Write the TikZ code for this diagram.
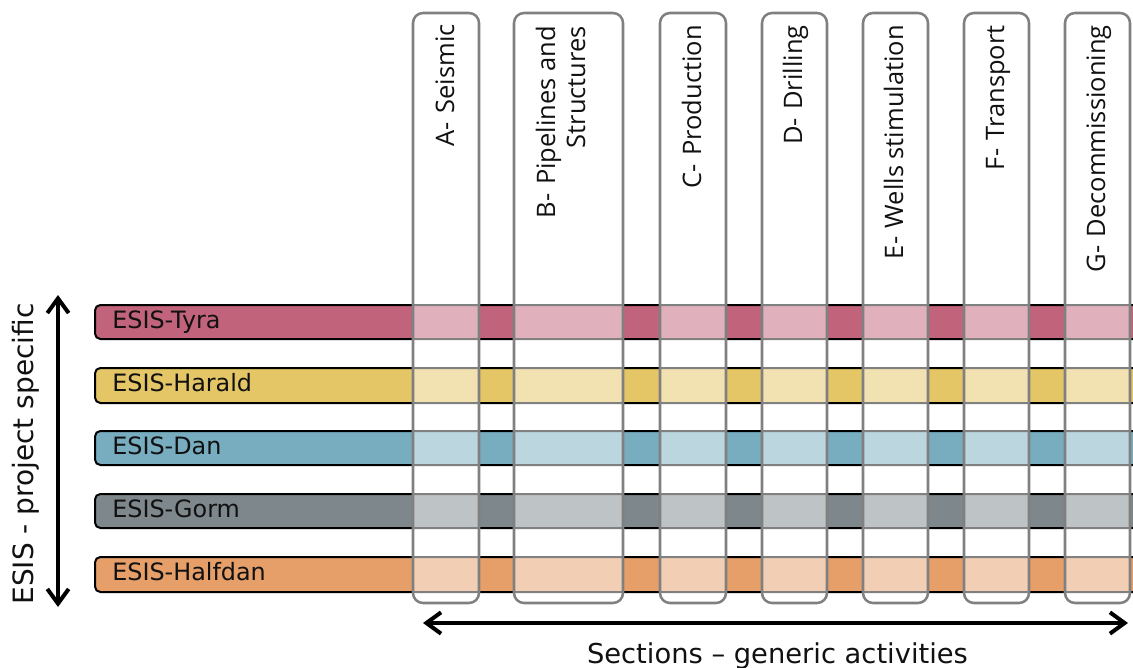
\documentclass[tikz,border=0pt]{standalone}
\usepackage{fontspec}
\setmainfont{DejaVu Sans}
\newfontfamily\colfont{Open Sans}
\usetikzlibrary{arrows.meta}
\definecolor{tyraD}{HTML}{C2637C}
\definecolor{haraldD}{HTML}{E5C666}
\definecolor{danD}{HTML}{78ADC0}
\definecolor{gormD}{HTML}{7E888C}
\definecolor{halfdanD}{HTML}{E69F69}
\definecolor{colgray}{HTML}{808080}
\definecolor{txt}{HTML}{111111}
\begin{document}
\begin{tikzpicture}[x=0.75pt,y=-0.75pt,
  barstyle/.style={draw=black, line width=1.5pt, rounded corners=4pt},
  colbox/.style={draw=colgray, line width=1.9pt, rounded corners=7.5pt, fill=white, fill opacity=0.5},
  barlabel/.style={anchor=base west, font=\fontsize{17.9}{20}\selectfont, text=txt, inner sep=0pt},
  collabel/.style={rotate=90, anchor=base east, font=\colfont\fontsize{19.1}{22}\selectfont, text=txt, inner sep=0pt},
  axisarrow/.style={line width=3pt, {Straight Barb[length=11pt,width=16pt]}-{Straight Barb[length=11pt,width=16pt]}},
  axislabel/.style={font=\fontsize{20.5}{24}\selectfont, text=txt, inner sep=0pt}
]
\useasboundingbox (0,0) rectangle (1133,668);
\clip (0,0) rectangle (1133,668);

% bars
\path[barstyle, fill=tyraD]    (95,305) rectangle (1170,339);
\path[barstyle, fill=haraldD]  (95,368) rectangle (1170,403);
\path[barstyle, fill=danD]     (95,431) rectangle (1170,465);
\path[barstyle, fill=gormD]    (95,494) rectangle (1170,528);
\path[barstyle, fill=halfdanD] (95,557) rectangle (1170,592);

\node[barlabel] (tyra)    at (112,328) {ESIS-Tyra};
\node[barlabel] (harald)  at (112,391) {ESIS-Harald};
\node[barlabel] (dan)     at (112,454) {ESIS-Dan};
\node[barlabel] (gorm)    at (112,517) {ESIS-Gorm};
\node[barlabel] (halfdan) at (112,580) {ESIS-Halfdan};

% columns
\path[colbox] (413,13) rectangle (479,603);
\path[colbox] (514,13) rectangle (623,603);
\path[colbox] (660,13) rectangle (726,603);
\path[colbox] (762,13) rectangle (827,603);
\path[colbox] (863,13) rectangle (928,603);
\path[colbox] (964,13) rectangle (1029,603);
\path[colbox] (1065,13) rectangle (1130,603);

\node[collabel] (colA)  at (454,24) {A-\,\,Seismic};
\node[collabel] (colB1) at (555,26) {B-\,\,Pipelines and};
\node[collabel] (colB2) at (585,26) {Structures};
\node[collabel] (colC)  at (701,25) {C-\,\,Production};
\node[collabel] (colD)  at (802,25) {D-\,\,Drilling};
\node[collabel] (colE)  at (903,25) {E-\,\,Wells stimulation};
\node[collabel] (colF)  at (1004,25) {F-\,\,Transport};
\node[collabel] (colG)  at (1105,25) {G-\,\,Decommissioning};

% axes
\coordinate (vtop) at (58,295);
\coordinate (vbot) at (58,607);
\draw[axisarrow] (vtop) -- (vbot);
\node[axislabel, rotate=90, anchor=base, font=\fontsize{21}{24}\selectfont] (vlabel) at (33,454) {ESIS - project specific};

\coordinate (hleft) at (423,623);
\coordinate (hright) at (1128,623);
\draw[axisarrow] (hleft) -- (hright);
\node[axislabel, anchor=base] (hlabel) at (777.5,663) {Sections – generic activities};
\end{tikzpicture}
\end{document}
